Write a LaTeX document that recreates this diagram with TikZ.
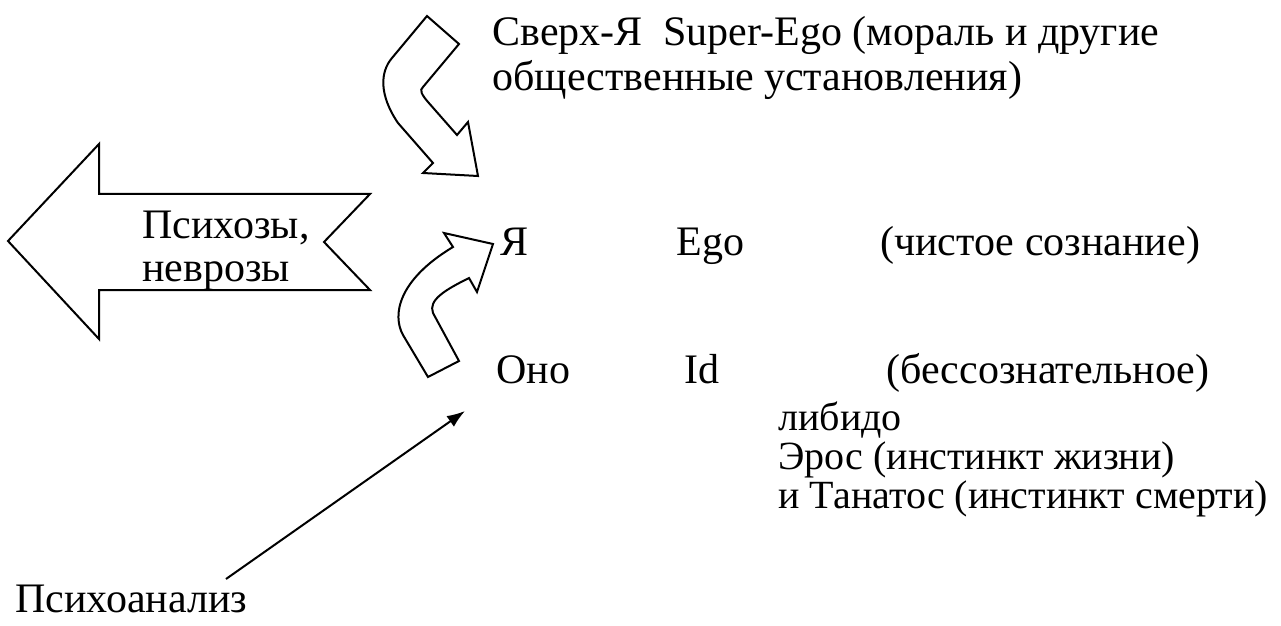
\documentclass[tikz,border=0pt]{standalone}
\usepackage{fontspec}
\setmainfont{Liberation Serif}
\usetikzlibrary{arrows.meta, positioning, calc}

\tikzset{
  txt/.style={anchor=base west, inner sep=0pt, font=\fontsize{21}{24}\selectfont},
  smalltxt/.style={txt, font=\fontsize{20}{23}\selectfont},
  blockarrow/.style={draw, line width=1pt, line join=miter, fill=white},
  linkarrow/.style={-{Latex[length=9pt, width=6.5pt]}, line width=1pt}
}

\begin{document}
\begin{tikzpicture}[x=0.5pt, y=-0.5pt]
\useasboundingbox (0,0) rectangle (1281,626);

% Super-Ego
\node[txt] (super1) at (492,46) {Сверх-Я\ \ Super-Ego (мораль и другие};
\node[txt] (super2) at (492,91) {общественные установления)};

% Ego
\node[txt] (ego) at (500,256) {Я};
\node[txt] (egolat) at (676,256) {Ego};
\node[txt] (egonote) at (880,256) {(чистое сознание)};

% Id
\node[txt] (id) at (496,383) {Оно};
\node[txt] (idlat) at (684,383) {Id};
\node[txt] (idnote) at (886,383) {(бессознательное)};
\node[smalltxt] (libido) at (778,430) {либидо};
\node[smalltxt] (eros) at (778,469) {Эрос (инстинкт жизни)};
\node[smalltxt] (thanatos) at (778,508) {и Танатос (инстинкт смерти)};

% Psychoanalysis
\node[txt] (psa) at (15,612) {Психоанализ};
\coordinate (psastart) at (226,579);
\coordinate (psaend) at (465,411);
\draw[linkarrow] (psastart) -- (psaend);

% Psychoses, neuroses
\draw[blockarrow] (8,241) -- (99,144) -- (99,194) -- (370,194) -- (324,242)
  -- (370,290) -- (99,290) -- (99,339) -- cycle;
\node[txt] (psy1) at (142,238) {Психозы,};
\node[txt] (psy2) at (142,281) {неврозы};

% Super-Ego -> Ego
\draw[blockarrow] (427,16) -- (392,58) .. controls (380,72) and (379,95) .. (398,123)
  -- (433,163) -- (423,173) -- (478,176) -- (468,122) -- (457,135)
  -- (428,102) .. controls (422,95) and (419,90) .. (423,87) -- (459,44) -- cycle;

% Id -> Ego
\draw[blockarrow] (428,377) -- (403,335) .. controls (392,315) and (398,280) .. (453,247)
  -- (444,233) -- (493,244) -- (477,292) -- (469,278)
  .. controls (445,290) and (428,300) .. (433,313) -- (459,361) -- cycle;
\end{tikzpicture}
\end{document}
